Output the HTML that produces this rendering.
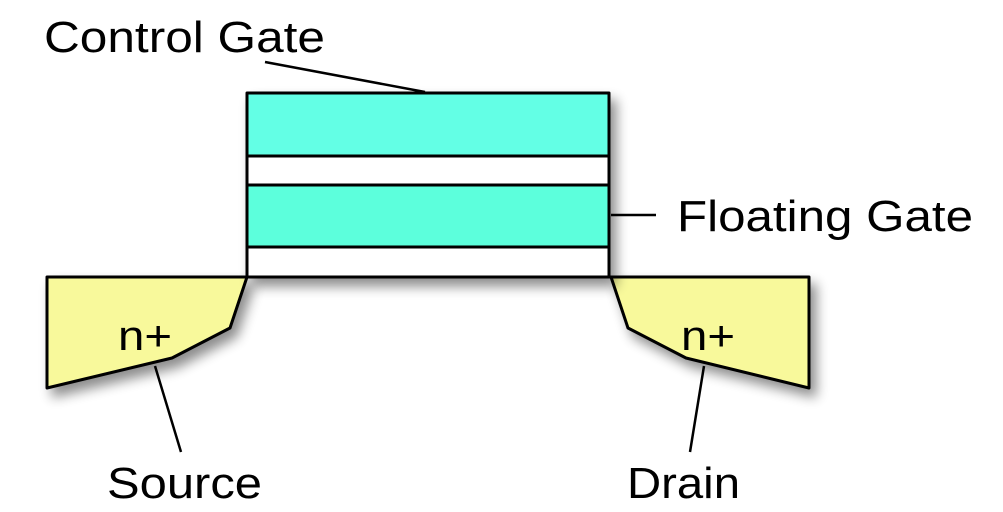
<!DOCTYPE html>
<html><head><style>body{margin:0;background:#fff}svg{display:block}</style></head><body>
<svg width="1003" height="512" viewBox="0 0 1003 512" xmlns="http://www.w3.org/2000/svg">
<defs><filter id="s" x="-20%" y="-20%" width="150%" height="150%"><feGaussianBlur in="SourceAlpha" stdDeviation="6"/><feOffset dx="6" dy="8"/><feComponentTransfer><feFuncA type="linear" slope="0.45"/></feComponentTransfer><feMerge><feMergeNode/><feMergeNode in="SourceGraphic"/></feMerge></filter></defs>
<g stroke="#000" stroke-width="3" stroke-linejoin="round">
<line x1="47" y1="277" x2="809" y2="277"/>
<polygon filter="url(#s)" points="47,277 247,277 230,328 172,358 47,388" fill="#f8f99b"/>
<polygon filter="url(#s)" points="809,277 611,277 628,328 686,358 809,388" fill="#f8f99b"/>
<g filter="url(#s)">
<rect x="247" y="93" width="362" height="63" fill="#63ffe5"/>
<rect x="247" y="156" width="362" height="29" fill="#fff"/>
<rect x="247" y="185" width="362" height="62" fill="#5bffdc"/>
<rect x="247" y="247" width="362" height="30" fill="#fff"/>
</g>
<line x1="265" y1="62" x2="425" y2="92" stroke-width="2.5"/>
<line x1="611" y1="215" x2="656" y2="215" stroke-width="2.5"/>
<line x1="155" y1="366" x2="181" y2="452" stroke-width="2.5"/>
<line x1="704" y1="366" x2="690" y2="452" stroke-width="2.5"/>
</g>
<g font-family="Liberation Sans, sans-serif" font-size="44" fill="#000" lengthAdjust="spacingAndGlyphs">
<text x="44" y="52" textLength="281" lengthAdjust="spacingAndGlyphs">Control Gate</text>
<text x="677" y="231" textLength="296" lengthAdjust="spacingAndGlyphs">Floating Gate</text>
<text x="107" y="498" textLength="155" lengthAdjust="spacingAndGlyphs">Source</text>
<text x="627" y="498" textLength="113" lengthAdjust="spacingAndGlyphs">Drain</text>
<text x="118" y="350" font-size="42" textLength="54" lengthAdjust="spacingAndGlyphs">n+</text>
<text x="681" y="350" font-size="42" textLength="54" lengthAdjust="spacingAndGlyphs">n+</text>
</g>
</svg>
</body></html>
